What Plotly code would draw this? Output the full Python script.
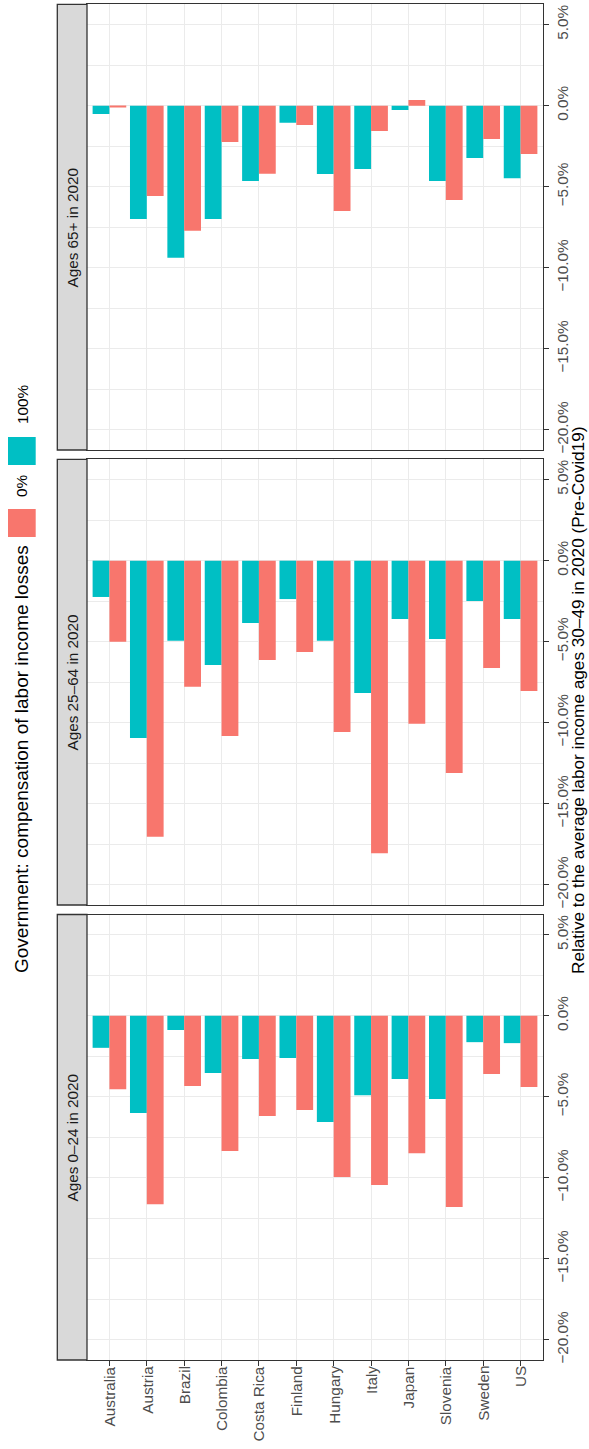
import plotly.graph_objects as go
from plotly.subplots import make_subplots

countries = ["Australia", "Austria", "Brazil", "Colombia", "Costa Rica", "Finland",
             "Hungary", "Italy", "Japan", "Slovenia", "Sweden", "US"]

panel_labels = ["Ages 65+ in 2020", "Ages 25\u201364 in 2020", "Ages 0\u201324 in 2020"]

# values in percent, relative to average labor income ages 30-49 (pre-Covid19)
age65_comp100 = [-0.51, -7.00, -9.38, -7.00, -4.65, -1.05, -4.22, -3.91, -0.27, -4.65, -3.23, -4.47]
age65_comp0 = [-0.05, -5.57, -7.71, -2.24, -4.20, -1.19, -6.50, -1.56, 0.35, -5.82, -2.06, -2.98]
age25_64_comp100 = [-2.24, -10.95, -4.94, -6.44, -3.85, -2.37, -4.94, -8.17, -3.60, -4.84, -2.49, -3.60]
age25_64_comp0 = [-5.00, -17.04, -7.78, -10.82, -6.13, -5.64, -10.58, -18.05, -10.06, -13.11, -6.63, -8.05]
age0_24_comp100 = [-1.98, -6.01, -0.88, -3.54, -2.67, -2.61, -6.56, -4.90, -3.91, -5.14, -1.63, -1.69]
age0_24_comp0 = [-4.53, -11.63, -4.34, -8.35, -6.19, -5.82, -9.96, -10.45, -8.48, -11.81, -3.60, -4.40]

series_names = ["100%", "0%"]
series_colors = ["#00BFC4", "#F8766D"]

tick_vals = [-20, -15, -10, -5, 0, 5]
tick_text = ["\u221220.0%", "\u221215.0%", "\u221210.0%", "\u22125.0%", "0.0%", "5.0%"]
minor_vals = [-17.5, -12.5, -7.5, -2.5, 2.5]

legend_title = "Government: compensation of labor income losses"
axis_title = "Relative to the average labor income ages 30\u201349 in 2020 (Pre-Covid19)"

panels = [
    (age65_comp100, age65_comp0),
    (age25_64_comp100, age25_64_comp0),
    (age0_24_comp100, age0_24_comp0),
]

W, H = 589, 1449
ML, MR, MT, MB = 87, 46, 4, 89
PW = W - ML - MR
PH = H - MT - MB


def px2x(px):
    return (px - ML) / PW


def px2y(py):
    return (H - MB - py) / PH


# panel vertical extents in pixels (top, bottom)
panel_px = [(4.45, 450.0), (459.4, 905.0), (914.5, 1360.0)]
domains = [[max(0, px2y(b)), min(1, px2y(t))] for t, b in panel_px]

FONT = "Liberation Sans, Arial, Helvetica, sans-serif"
GRID = "#EBEBEB"
BORDER = "#333333"
TICKTXT = "#4D4D4D"

fig = make_subplots(rows=3, cols=1, vertical_spacing=0.01)

for i, (v100, v0) in enumerate(panels):
    r = i + 1
    for name, vals, col in zip(series_names, [v100, v0], series_colors):
        fig.add_trace(go.Bar(x=countries, y=vals, name=name, marker_color=col,
                             marker_line_width=0, showlegend=False, hoverinfo="skip"),
                      row=r, col=1)

    xa = "xaxis" if r == 1 else f"xaxis{r}"
    ya = "yaxis" if r == 1 else f"yaxis{r}"
    fig.layout[ya].update(
        domain=domains[i], range=[-21.25, 6.25], side="right", automargin=False,
        tickvals=tick_vals, ticktext=tick_text, tickangle=-90,
        ticks="outside", ticklen=5, tickwidth=1.3, tickcolor=BORDER,
        tickfont=dict(size=15.3, color=TICKTXT, family=FONT),
        showgrid=True, gridcolor=GRID, gridwidth=1.4, zeroline=False,
        minor=dict(tickvals=minor_vals, showgrid=True, gridcolor=GRID, gridwidth=0.8, ticks=""),
        showline=True, mirror=True, linecolor=BORDER, linewidth=1.3,
    )
    last = (r == 3)
    fig.layout[xa].update(
        type="category", categoryorder="array", categoryarray=countries,
        range=[-0.6, len(countries) - 0.4], automargin=False,
        showgrid=True, gridcolor=GRID, gridwidth=1.4, zeroline=False,
        showline=True, mirror=True, linecolor=BORDER, linewidth=1.3,
        showticklabels=False, ticks="outside" if last else "", ticklen=5, tickwidth=1.3,
        tickcolor=BORDER,
    )
    if r > 1:
        fig.layout[xa].update(matches="x")

    # strip
    fig.add_shape(type="rect", xref="paper", yref="paper",
                  x0=px2x(57.3), x1=0, y0=domains[i][0], y1=domains[i][1],
                  fillcolor="#D9D9D9", line=dict(color=BORDER, width=1.3), layer="above")
    fig.add_annotation(xref="paper", yref="paper", x=px2x(72.3),
                       y=(domains[i][0] + domains[i][1]) / 2,
                       text=panel_labels[i], textangle=-90, showarrow=False,
                       font=dict(size=15.3, color="#1A1A1A", family=FONT),
                       xanchor="center", yanchor="middle")

# country tick labels on the bottom panel (rotated, top-aligned below the ticks)
for c in countries:
    fig.add_annotation(xref="x3", yref="paper", x=c, y=px2y(1365),
                       text=c, textangle=-90, showarrow=False,
                       font=dict(size=15.3, color=TICKTXT, family=FONT),
                       xanchor="center", yanchor="top", borderpad=0)

# legend (drawn manually, rotated like the reference)
key_px = {"100%": (437, 465), "0%": (509, 537)}
label_px = {"100%": 404, "0%": 486}
for name, col in zip(series_names, series_colors):
    t, b = key_px[name]
    fig.add_shape(type="rect", xref="paper", yref="paper",
                  x0=px2x(8), x1=px2x(35.7), y0=px2y(b), y1=px2y(t),
                  fillcolor=col, line=dict(width=0))
    fig.add_annotation(xref="paper", yref="paper", x=px2x(22), y=px2y(label_px[name]),
                       text=name, textangle=-90, showarrow=False,
                       font=dict(size=15.3, color="#000000", family=FONT),
                       xanchor="center", yanchor="middle")

fig.add_annotation(xref="paper", yref="paper", x=px2x(21), y=px2y(759),
                   text=legend_title, textangle=-90, showarrow=False,
                   font=dict(size=19, color="#000000", family=FONT),
                   xanchor="center", yanchor="middle")

fig.add_annotation(xref="paper", yref="paper", x=px2x(578), y=px2y(701),
                   text=axis_title, textangle=-90, showarrow=False,
                   font=dict(size=17.2, color="#000000", family=FONT),
                   xanchor="center", yanchor="middle")

fig.update_layout(
    width=W, height=H, margin=dict(l=ML, r=MR, t=MT, b=MB, autoexpand=False),
    barmode="group", bargap=0.1, bargroupgap=0,
    plot_bgcolor="white", paper_bgcolor="white",
    font=dict(family=FONT),
    showlegend=False,
)

fig.write_html("out.html", config={"displayModeBar": False},
               post_script="document.body.style.margin='0';document.body.style.overflow='hidden';")
